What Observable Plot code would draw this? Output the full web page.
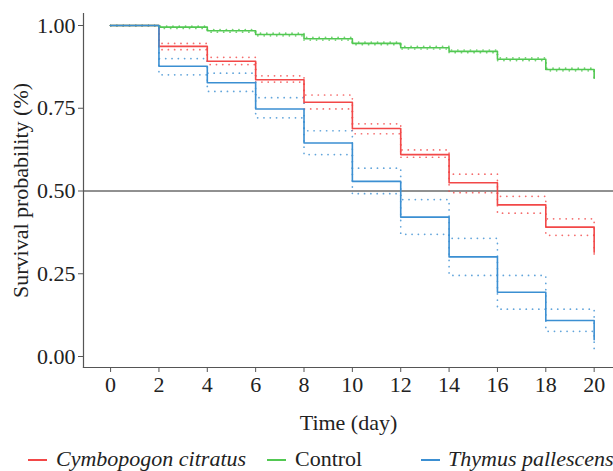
<!DOCTYPE html>
<html>
<head>
<meta charset="utf-8">
<script src="https://cdn.jsdelivr.net/npm/d3@7"></script>
<script src="https://cdn.jsdelivr.net/npm/@observablehq/plot@0.6"></script>
<style>
  html, body { margin: 0; padding: 0; background: #fff; }
  #wrap { width: 613px; font-family: "Liberation Serif", serif; }
  #legend { position: relative; width: 613px; height: 31px; font-size: 22px; color: #222; }
  #legend .sw { position: absolute; top: 19px; height: 2px; width: 19px; }
  #legend .lb { position: absolute; top: 6px; line-height: 26px; white-space: nowrap; }
</style>
</head>
<body>
<div id="wrap"><div id="chart"></div><div id="legend"></div></div>
<script>
const days = [0, 2, 4, 6, 8, 10, 12, 14, 16, 18, 20];
const seriesNames = ["Cymbopogon citratus", "Control", "Thymus pallescens"];
const seriesColors = ["#f24848", "#52c852", "#3b8fd2"];
const xTicks = [0, 2, 4, 6, 8, 10, 12, 14, 16, 18, 20];
const yTicks = [0, 0.25, 0.5, 0.75, 1];
const yTickLabels = ["0.00", "0.25", "0.50", "0.75", "1.00"];
const xTitle = "Time (day)";
const yTitle = "Survival probability (%)";
const medianLine = [0.5];

// survival estimates and confidence bounds (values at start of each interval)
const cymbo      = [1, 0.937, 0.892, 0.836, 0.768, 0.689, 0.610, 0.525, 0.458, 0.391, 0.315];
const cymboUpper = [1, 0.946, 0.904, 0.848, 0.790, 0.703, 0.624, 0.551, 0.484, 0.416, 0.350];
const cymboLower = [1, 0.927, 0.882, 0.829, 0.748, 0.673, 0.602, 0.495, 0.433, 0.366, 0.300];
const control      = [1, 0.995, 0.984, 0.973, 0.960, 0.946, 0.933, 0.922, 0.898, 0.867, 0.841];
const controlUpper = [1, 0.998, 0.988, 0.977, 0.964, 0.950, 0.937, 0.926, 0.902, 0.871, 0.845];
const controlLower = [1, 0.991, 0.980, 0.969, 0.956, 0.942, 0.929, 0.918, 0.894, 0.863, 0.837];
const thymus      = [1, 0.877, 0.827, 0.748, 0.645, 0.529, 0.421, 0.301, 0.194, 0.109, 0.051];
const thymusUpper = [1, 0.900, 0.856, 0.782, 0.682, 0.569, 0.474, 0.357, 0.245, 0.143, 0.090];
const thymusLower = [1, 0.851, 0.801, 0.721, 0.610, 0.492, 0.369, 0.245, 0.143, 0.076, 0.020];

const est = [cymbo, control, thymus];
const upp = [cymboUpper, controlUpper, thymusUpper];
const low = [cymboLower, controlLower, thymusLower];

const solidRows = [];
const ciRows = [];
seriesNames.forEach((s, i) => {
  days.forEach((d, j) => {
    solidRows.push({series: s, t: d, v: est[i][j]});
    ciRows.push({series: s, band: s + "-u", t: d, v: upp[i][j]});
    ciRows.push({series: s, band: s + "-l", t: d, v: low[i][j]});
  });
});

const color = {domain: seriesNames, range: seriesColors};

const chart = Plot.plot({
  width: 613,
  height: 440,
  marginTop: 13,
  marginBottom: 73,
  marginLeft: 83,
  marginRight: 0,
  style: {fontFamily: "Liberation Serif, serif", fontSize: "22px", color: "#222", background: "#fff"},
  x: {domain: [-1.12, 20.8]},
  y: {domain: [-0.0332, 1.0363]},
  color,
  marks: [
    Plot.ruleY(medianLine, {stroke: "#222", strokeWidth: 1}),
    ...seriesNames.map(s => Plot.line(ciRows.filter(r => r.series === s), {
      x: "t", y: "v", z: "band", stroke: "series", curve: "step-after",
      strokeWidth: 1.7, strokeDasharray: "0.1,6.2", strokeLinecap: "round", strokeOpacity: 0.8
    })),
    ...seriesNames.map(s => Plot.line(solidRows.filter(r => r.series === s), {
      x: "t", y: "v", stroke: "series", curve: "step-after", strokeWidth: 1.6
    })),
    Plot.frame({anchor: "left", stroke: "#555", strokeWidth: 1.2}),
    Plot.frame({anchor: "bottom", stroke: "#555", strokeWidth: 1.2}),
    Plot.axisX({ticks: xTicks, tickSize: 5, tickPadding: 4, stroke: "#555", label: null}),
    Plot.axisY({ticks: yTicks, tickSize: 5, tickPadding: 3, stroke: "#555",
      tickFormat: (d) => yTickLabels[yTicks.indexOf(d)], label: null}),
    Plot.text([xTitle], {frameAnchor: "bottom", dy: 55, lineAnchor: "middle",
      fontSize: 22, fill: "#222"}),
    Plot.text([yTitle], {frameAnchor: "left", dx: -63, rotate: -90, lineAnchor: "middle",
      textAnchor: "middle", fontSize: 22, fill: "#222"})
  ]
});
document.getElementById("chart").appendChild(chart);

const legend = document.getElementById("legend");
const swX = [28, 267, 421];
const lbX = [56, 295, 448];
const italic = [true, false, true];
seriesNames.forEach((s, i) => {
  const sw = document.createElement("div");
  sw.className = "sw";
  sw.style.left = swX[i] + "px";
  sw.style.background = seriesColors[i];
  legend.appendChild(sw);
  const lb = document.createElement("div");
  lb.className = "lb";
  lb.style.left = lbX[i] + "px";
  lb.style.fontStyle = italic[i] ? "italic" : "normal";
  lb.textContent = s;
  legend.appendChild(lb);
});
</script>
</body>
</html>
